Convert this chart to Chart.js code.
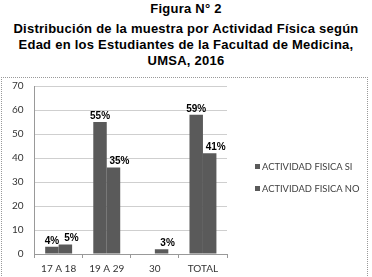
<!DOCTYPE html>
<html>
<head>
<meta charset="utf-8">
<script src="https://cdn.jsdelivr.net/npm/chart.js@4"></script>
<style>
  body { margin: 0; background: #fff; }
  #titulo {
    position: absolute; left: 0; top: 1px; width: 372px;
    text-align: center; font-family: "Liberation Sans", Arial, sans-serif;
    font-weight: bold; font-size: 13px; line-height: 16px; color: #000;
    letter-spacing: 0.25px;
  }
  #titulo p { margin: 0; }
  #titulo p.fig { margin-bottom: 4px; }
  #marco {
    position: absolute; left: 1px; top: 77px; width: 365px; height: 205px;
    border: 1px dotted #999;
  }
  #grafico { display: block; }
  #leyenda {
    position: absolute; left: 255px; top: 160px; margin: 0; padding: 0; list-style: none;
    font-family: Lato, "Liberation Sans", sans-serif; font-size: 9.4px; color: #404040;
  }
  #leyenda li { height: 22px; line-height: 14px; white-space: nowrap; }
  #leyenda span { display: inline-block; width: 5px; height: 5px; margin-right: 2px; vertical-align: 1px; }
</style>
</head>
<body>
<div id="titulo"><p class="fig">Figura N° 2</p><p>Distribución de la muestra por Actividad Física según<br>Edad en los Estudiantes de la Facultad de Medicina,<br>UMSA, 2016</p></div>
<div id="marco"><canvas id="grafico" width="365" height="205"></canvas></div>
<ul id="leyenda"></ul>
<script>
// categorias y valores
const edades = ['17 A 18', '19 A 29', '30', 'TOTAL'];
const actividadSi = [3, 55, 0, 58];
const actividadNo = [4, 36, 2, 42];
const etiquetasSi = ['4%', '55%', '', '59%'];
const etiquetasNo = ['5%', '35%', '3%', '41%'];

// etiquetas encima de las barras
const etiquetasPlugin = {
  id: 'etiquetas',
  afterDatasetsDraw(chart) {
    const ctx = chart.ctx;
    ctx.save();
    ctx.font = 'bold 10px "Liberation Sans", Arial, sans-serif';
    ctx.fillStyle = '#000';
    ctx.textAlign = 'center';
    ctx.textBaseline = 'bottom';
    chart.data.datasets.forEach((ds, i) => {
      const dx = i === 0 ? 0 : 6;
      chart.getDatasetMeta(i).data.forEach((bar, j) => {
        const txt = ds.etiquetas[j];
        if (txt) ctx.fillText(txt, bar.x + dx, bar.y - 1);
      });
    });
    ctx.restore();
  }
};

let ctx = document.getElementById('grafico');
let config = {
  type: 'bar',
  data: {
    labels: edades,
    datasets: [{
      label: 'ACTIVIDAD FISICA SI',
      data: actividadSi,
      etiquetas: etiquetasSi,
      backgroundColor: '#5a5a5a',
    }, {
      label: 'ACTIVIDAD FISICA NO',
      data: actividadNo,
      etiquetas: etiquetasNo,
      backgroundColor: '#5a5a5a',
    }],
  },
  options: {
    responsive: false,
    animation: false,
    layout: { padding: { top: 1, right: 140, left: 8, bottom: 3 } },
    categoryPercentage: 0.56,
    barPercentage: 1,
    plugins: {
      tooltip: { enabled: false },
      legend: { display: false },
    },
    scales: {
      x: {
        grid: { offset: true, drawOnChartArea: false, tickLength: 4, color: '#999' },
        border: { color: '#999' },
        ticks: { color: '#333', font: { family: 'Lato, "Liberation Sans", sans-serif', size: 10 }, padding: 5 },
      },
      y: {
        min: 0,
        max: 70,
        ticks: { stepSize: 10, color: '#333', font: { family: 'Lato, "Liberation Sans", sans-serif', size: 10 }, padding: 2 },
        grid: { color: '#cfcfcf', tickLength: 9, tickColor: 'rgba(0,0,0,0)' },
        border: { color: '#999' },
      }
    },
  },
  plugins: [etiquetasPlugin],
};
let chart = new Chart(ctx, config);

// leyenda en HTML con los elementos que da Chart.js
const items = Chart.defaults.plugins.legend.labels.generateLabels(chart);
document.getElementById('leyenda').innerHTML = items.map(it =>
  '<li><span style="background:' + it.fillStyle + '"></span>' + it.text + '</li>'
).join('');
</script>
</body>
</html>
